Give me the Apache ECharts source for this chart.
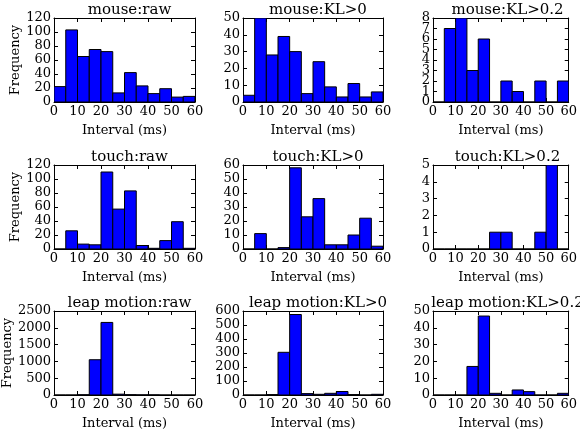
<!DOCTYPE html>
<html>
<head>
<meta charset="utf-8">
<script src="https://cdn.jsdelivr.net/npm/echarts@6/dist/echarts.min.js"></script>
<style>
  html, body { margin: 0; padding: 0; background: #fff; }
  #chart { width: 580px; height: 432px; }
</style>
</head>
<body>
<div id="chart"></div>
<script>
// bin edges of the histograms (ms)
var binEdges = [0, 5, 10, 15, 20, 25, 30, 35, 40, 45, 50, 55, 60];

var titles = [
    'mouse:raw', 'mouse:KL>0', 'mouse:KL>0.2',
    'touch:raw', 'touch:KL>0', 'touch:KL>0.2',
    'leap motion:raw', 'leap motion:KL>0', 'leap motion:KL>0.2'
];

// counts per bin
var mouseRaw = [22, 103, 65, 75, 72, 13, 42, 23, 12, 19, 7, 8];
var mouseKL0 = [4, 50, 28, 39, 30, 5, 24, 9, 3, 11, 3, 6];
var mouseKL02 = [0, 7, 8, 3, 6, 0, 2, 1, 0, 2, 0, 2];
var touchRaw = [0, 26, 7, 6, 110, 57, 83, 5, 1, 12, 39, 1];
var touchKL0 = [0, 11, 0, 1, 58, 23, 36, 3, 3, 10, 22, 2];
var touchKL02 = [0, 0, 0, 0, 0, 1, 1, 0, 0, 1, 5, 0];
var leapRaw = [0, 0, 8, 1050, 2160, 25, 10, 5, 5, 0, 0, 0];
var leapKL0 = [0, 0, 3, 305, 575, 10, 5, 12, 25, 3, 0, 5];
var leapKL02 = [0, 0, 0, 17, 47, 1, 0, 3, 2, 0, 0, 1];

var counts = [mouseRaw, mouseKL0, mouseKL02, touchRaw, touchKL0, touchKL02, leapRaw, leapKL0, leapKL02];

// y axis range and tick step per panel
var yMax = [120, 50, 8, 120, 60, 5, 2500, 600, 50];
var yStep = [20, 10, 1, 20, 10, 1, 500, 100, 10];

var colLeft = [54, 243, 433];
var rowTop = [18, 165, 311];
var plotW = [141, 140, 139];
var plotH = 84;

var font = 'DejaVu Serif';

var myChart = echarts.init(document.getElementById('chart'));

var grid = [], xAxis = [], yAxis = [], series = [], title = [];

function plain(v) { return String(v); }

// bars: one rect per bin, from the axes' own scales
function drawBin(params, api) {
    var p0 = api.coord([api.value(0), api.value(2)]);
    var p1 = api.coord([api.value(1), 0]);
    return {
        type: 'rect',
        shape: {x: p0[0], y: p0[1], width: p1[0] - p0[0], height: p1[1] - p0[1]},
        style: {fill: '#0000ff', stroke: '#000', lineWidth: 1}
    };
}

// y tick labels drawn as text at the axis position (ECharts v6 hides crowded axis labels)
function drawYLabel(params, api) {
    var p = api.coord([0, api.value(0)]);
    return {
        type: 'text',
        x: p[0] - 3,
        y: p[1],
        style: {
            text: String(api.value(0)),
            fill: '#000',
            fontFamily: font,
            fontSize: 13,
            align: 'right',
            verticalAlign: 'middle'
        }
    };
}

for (var i = 0; i < 9; i++) {
    var r = Math.floor(i / 3), c = i % 3;
    var yTicks = [];
    for (var t = 0; t <= yMax[i]; t += yStep[i]) yTicks.push([t]);

    grid.push({
        left: colLeft[c], top: rowTop[r], width: plotW[c], height: plotH,
        show: false
    });
    title.push({
        text: titles[i],
        left: colLeft[c] + plotW[c] / 2,
        top: rowTop[r] - 20,
        textAlign: 'center',
        textStyle: {fontFamily: font, fontSize: 15, fontWeight: 'normal', color: '#000'}
    });
    // bottom x axis
    xAxis.push({
        type: 'value', gridIndex: i, min: 0, max: 60, interval: 10,
        position: 'bottom',
        name: 'Interval (ms)', nameLocation: 'middle', nameGap: 22,
        nameTextStyle: {fontFamily: font, fontSize: 13, color: '#000'},
        axisLine: {show: true, onZero: false, lineStyle: {color: '#000', width: 1}},
        axisTick: {show: true, inside: true, length: 4, lineStyle: {color: '#000'}},
        axisLabel: {fontFamily: font, fontSize: 13, color: '#000', margin: 3,
            showMinLabel: true, showMaxLabel: true, formatter: plain},
        splitLine: {show: false}
    });
    // top x axis (frame + ticks)
    xAxis.push({
        type: 'value', gridIndex: i, min: 0, max: 60, interval: 10,
        position: 'top',
        axisLine: {show: true, onZero: false, lineStyle: {color: '#000', width: 1}},
        axisTick: {show: true, inside: true, length: 4, lineStyle: {color: '#000'}},
        axisLabel: {show: false},
        splitLine: {show: false}
    });
    yAxis.push({
        type: 'value', gridIndex: i, min: 0, max: yMax[i], interval: yStep[i],
        position: 'left',
        name: c === 0 ? 'Frequency' : '', nameLocation: 'middle',
        nameGap: c === 0 ? (i === 6 ? 40 : 32) : 0,
        nameTextStyle: {fontFamily: font, fontSize: 13, color: '#000'},
        axisLine: {show: true, onZero: false, lineStyle: {color: '#000', width: 1}},
        axisTick: {show: true, inside: true, length: 4, lineStyle: {color: '#000'}},
        axisLabel: {show: false},
        splitLine: {show: false}
    });
    // right y axis (frame + ticks)
    yAxis.push({
        type: 'value', gridIndex: i, min: 0, max: yMax[i], interval: yStep[i],
        position: 'right',
        axisLine: {show: true, onZero: false, lineStyle: {color: '#000', width: 1}},
        axisTick: {show: true, inside: true, length: 4, lineStyle: {color: '#000'}},
        axisLabel: {show: false},
        splitLine: {show: false}
    });

    var data = [];
    for (var k = 0; k < counts[i].length; k++) {
        data.push([binEdges[k], binEdges[k + 1], counts[i][k]]);
    }
    series.push({
        type: 'custom',
        xAxisIndex: i * 2,
        yAxisIndex: i * 2,
        clip: true,
        silent: true,
        data: data,
        renderItem: drawBin
    });
    series.push({
        type: 'custom',
        xAxisIndex: i * 2,
        yAxisIndex: i * 2,
        clip: false,
        silent: true,
        data: yTicks,
        renderItem: drawYLabel
    });
}

var option = {
    animation: false,
    title: title,
    grid: grid,
    xAxis: xAxis,
    yAxis: yAxis,
    series: series
};
myChart.setOption(option);
</script>
</body>
</html>
